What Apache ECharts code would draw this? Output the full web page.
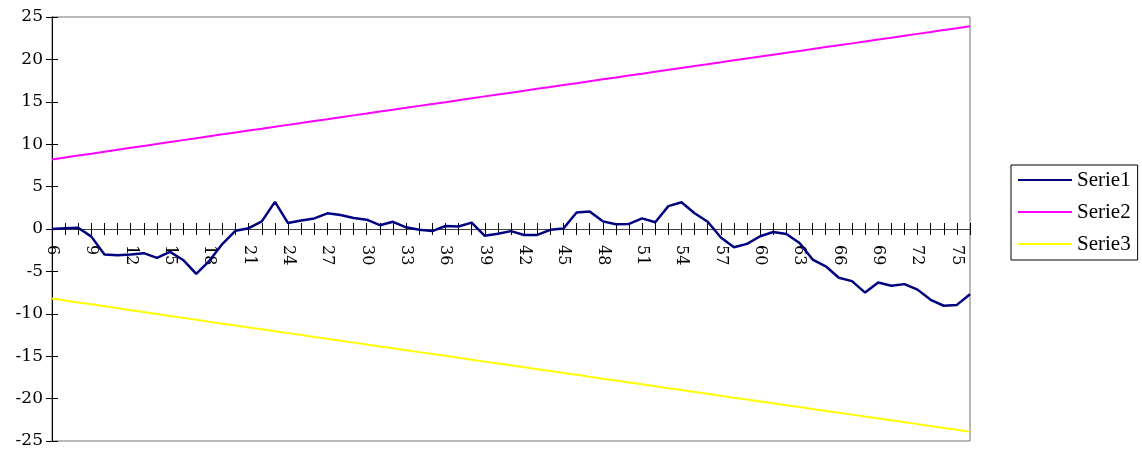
<!DOCTYPE html>
<html>
<head>
<meta charset="utf-8">
<style>
  html, body { margin: 0; padding: 0; background: #ffffff; }
  #chart { width: 1142px; height: 453px; }
</style>
<script src="https://cdn.jsdelivr.net/npm/echarts@6/dist/echarts.min.js"></script>
</head>
<body>
<div id="chart"></div>
<script>
// Category labels 6 .. 76
const categories = [
  '6','7','8','9','10','11','12','13','14','15','16','17','18','19','20',
  '21','22','23','24','25','26','27','28','29','30','31','32','33','34','35',
  '36','37','38','39','40','41','42','43','44','45','46','47','48','49','50',
  '51','52','53','54','55','56','57','58','59','60','61','62','63','64','65',
  '66','67','68','69','70','71','72','73','74','75','76'
];

const serie1 = [
  0.0, 0.1, 0.15, -0.9, -3.0, -3.1, -3.0, -2.85, -3.4, -2.7, -3.65, -5.3, -3.75, -1.75, -0.2,
  0.1, 0.9, 3.2, 0.7, 1.0, 1.25, 1.85, 1.65, 1.3, 1.1, 0.45, 0.85, 0.2, -0.1, -0.25,
  0.35, 0.3, 0.75, -0.8, -0.55, -0.25, -0.7, -0.7, -0.1, 0.05, 1.95, 2.05, 0.9, 0.55, 0.6,
  1.25, 0.8, 2.7, 3.15, 1.85, 0.85, -1.0, -2.15, -1.75, -0.85, -0.35, -0.6, -1.65, -3.6, -4.4,
  -5.75, -6.15, -7.5, -6.3, -6.7, -6.5, -7.15, -8.35, -9.05, -8.95, -7.7
];

const serie2 = [
  8.20, 8.43, 8.66, 8.88, 9.11, 9.34, 9.57, 9.80, 10.02, 10.25, 10.48, 10.71, 10.94, 11.16, 11.39,
  11.61, 11.83, 12.06, 12.28, 12.50, 12.73, 12.95, 13.18, 13.40, 13.62, 13.85, 14.07, 14.29, 14.52, 14.74,
  14.96, 15.19, 15.41, 15.64, 15.86, 16.08, 16.31, 16.53, 16.75, 16.98, 17.20, 17.43, 17.65, 17.87, 18.10,
  18.32, 18.54, 18.77, 18.99, 19.21, 19.44, 19.66, 19.89, 20.11, 20.33, 20.56, 20.78, 21.00, 21.23, 21.45,
  21.67, 21.89, 22.12, 22.34, 22.56, 22.79, 23.01, 23.23, 23.46, 23.68, 23.90
];

const serie3 = [
  -8.20, -8.43, -8.66, -8.88, -9.11, -9.34, -9.57, -9.80, -10.02, -10.25, -10.48, -10.71, -10.94, -11.16, -11.39,
  -11.61, -11.83, -12.06, -12.28, -12.50, -12.73, -12.95, -13.18, -13.40, -13.62, -13.85, -14.07, -14.29, -14.52, -14.74,
  -14.96, -15.19, -15.41, -15.64, -15.86, -16.08, -16.31, -16.53, -16.75, -16.98, -17.20, -17.43, -17.65, -17.87, -18.10,
  -18.32, -18.54, -18.77, -18.99, -19.21, -19.44, -19.66, -19.89, -20.11, -20.33, -20.56, -20.78, -21.00, -21.23, -21.45,
  -21.67, -21.89, -22.12, -22.34, -22.56, -22.79, -23.01, -23.23, -23.46, -23.68, -23.90
];

const seriesNames = ['Serie1', 'Serie2', 'Serie3'];
const seriesColors = ['#000080', '#FF00FF', '#FFFF00'];

const axisFont = 'DejaVu Serif';
const legendFont = 'Liberation Serif';

// Plot box in pixels
const gridTop = 17;
const gridBottom = 12;
const gridHeight = 453 - gridTop - gridBottom;
// The value range is symmetric (-25..25), so the zero line sits mid-height;
// the category axis is shifted up onto it.
const xAxisShift = -gridHeight / 2;

const chart = echarts.init(document.getElementById('chart'), null, { renderer: 'canvas' });

// Two x axes share the zero line: one carries labels and downward ticks,
// the other only upward ticks, so the ticks cross the line.
const xBase = {
  type: 'category',
  data: categories,
  boundaryGap: false,
  position: 'bottom',
  offset: xAxisShift,
  axisLine: { onZero: false, lineStyle: { color: '#404040', width: 1 } },
  splitLine: { show: false }
};

const yBase = {
  type: 'value',
  min: -25,
  max: 25,
  interval: 5,
  position: 'left',
  axisLine: { show: true, lineStyle: { color: '#000000', width: 1 } },
  splitLine: { show: false }
};

chart.setOption({
  animation: false,
  backgroundColor: '#ffffff',
  grid: {
    left: 52,
    right: 172,
    top: gridTop,
    bottom: gridBottom,
    containLabel: false,
    outerBoundsMode: 'none',
    show: true,
    borderColor: '#707070',
    borderWidth: 1,
    backgroundColor: 'transparent'
  },
  legend: {
    data: seriesNames,
    orient: 'vertical',
    left: 1011,
    top: 165,
    padding: [4, 7, 5, 7],
    icon: 'rect',
    itemWidth: 54,
    itemHeight: 2,
    itemGap: 10,
    borderColor: '#000000',
    borderWidth: 1,
    textStyle: { fontFamily: legendFont, fontSize: 21, lineHeight: 22, color: '#000000' }
  },
  xAxis: [
    Object.assign({}, xBase, {
      axisTick: { show: true, interval: 0, length: 6, lineStyle: { color: '#000000' } },
      axisLabel: {
        interval: 2,
        rotate: -90,
        margin: 16,
        fontFamily: axisFont,
        fontSize: 16,
        color: '#000000'
      }
    }),
    Object.assign({}, xBase, {
      axisTick: { show: true, inside: true, interval: 0, length: 6, lineStyle: { color: '#000000' } },
      axisLabel: { show: false }
    })
  ],
  yAxis: [
    Object.assign({}, yBase, {
      axisTick: { show: true, length: 6, lineStyle: { color: '#000000' } },
      axisLabel: { margin: 9, fontFamily: axisFont, fontSize: 17, color: '#000000' }
    }),
    Object.assign({}, yBase, {
      axisTick: { show: true, inside: true, length: 6, lineStyle: { color: '#000000' } },
      axisLabel: { show: false }
    })
  ],
  series: [
    {
      name: seriesNames[0], type: 'line', data: serie1, symbol: 'none',
      xAxisIndex: 0, yAxisIndex: 0,
      lineStyle: { color: seriesColors[0], width: 2.5 }, itemStyle: { color: seriesColors[0] }
    },
    {
      name: seriesNames[1], type: 'line', data: serie2, symbol: 'none',
      xAxisIndex: 0, yAxisIndex: 0,
      lineStyle: { color: seriesColors[1], width: 2 }, itemStyle: { color: seriesColors[1] }
    },
    {
      name: seriesNames[2], type: 'line', data: serie3, symbol: 'none',
      xAxisIndex: 0, yAxisIndex: 0,
      lineStyle: { color: seriesColors[2], width: 2 }, itemStyle: { color: seriesColors[2] }
    }
  ]
});
</script>
</body>
</html>
